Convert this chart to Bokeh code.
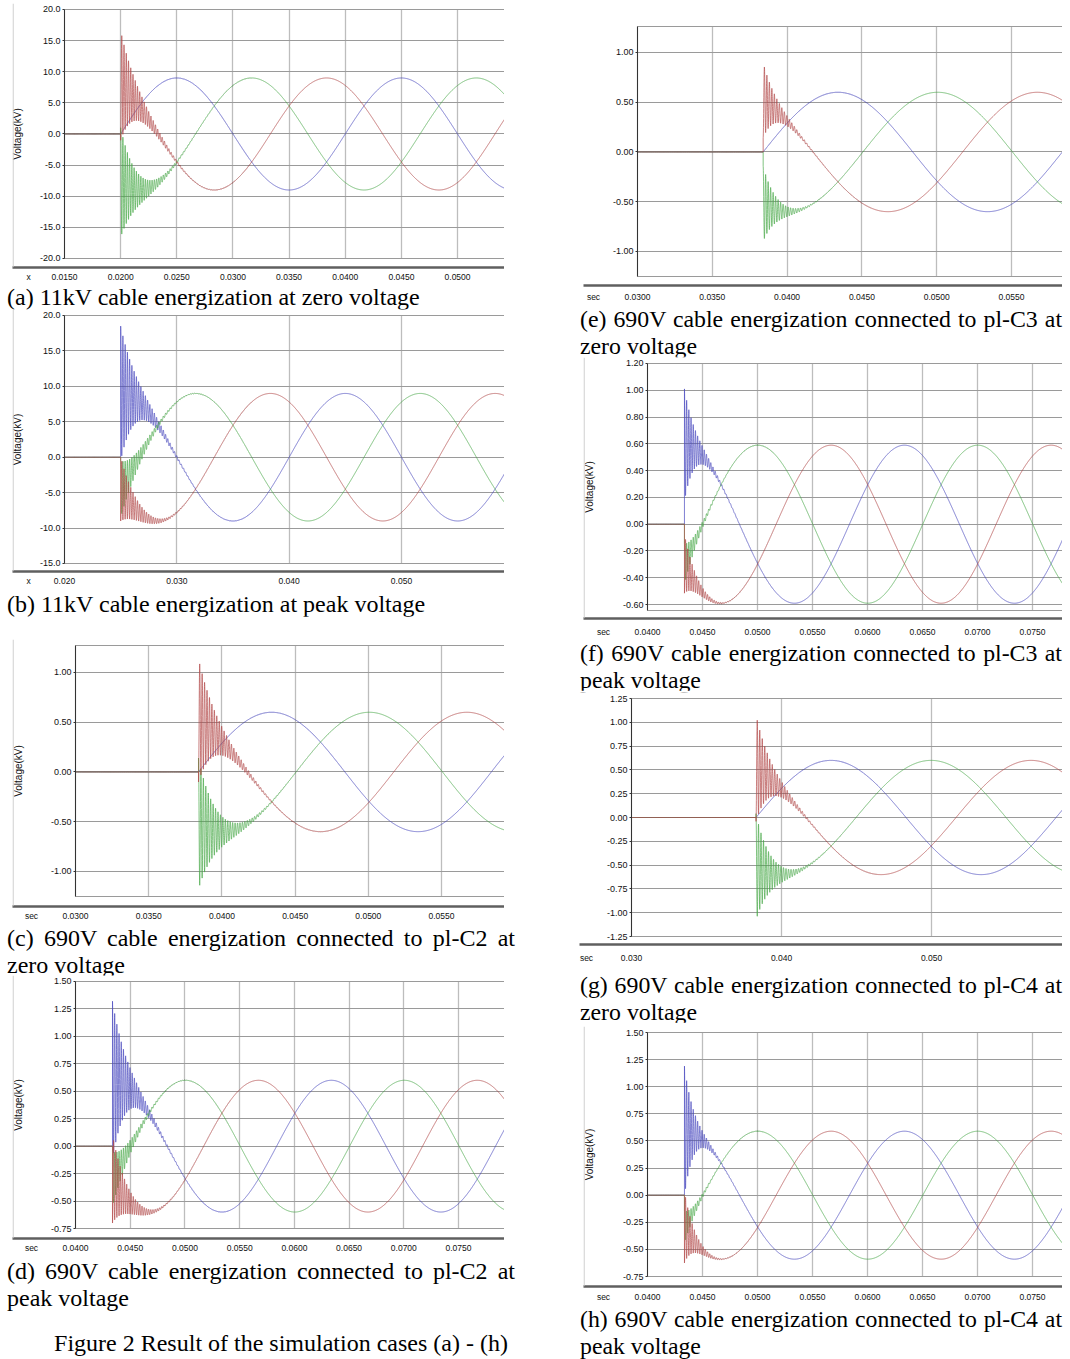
import numpy as np
from bokeh.plotting import figure
from bokeh.layouts import column, row
from bokeh.models import Div, FixedTicker, PrintfTickFormatter, Range1d, Span
from bokeh.embed import file_html
from bokeh.resources import INLINE

# ---------------- data ----------------
SYSTEM_HZ = 50.0
PHASES = ["blue", "green", "red"]
PHASE_DEG = {"blue": 0.0, "red": 120.0, "green": -120.0}

# (a) 11kV energization at zero voltage
A_XTICKS = [0.0150, 0.0200, 0.0250, 0.0300, 0.0350, 0.0400, 0.0450, 0.0500]
A_YTICKS = [-20.0, -15.0, -10.0, -5.0, 0.0, 5.0, 10.0, 15.0, 20.0]
A_SWITCH = 0.0200
A_AMP = 9.0
A_MODE = "zero"
A_SWING = {"blue": 0.0, "red": -8.8, "green": 8.8}
A_DECAY = 0.0013
A_RING = 5000.0

# (b) 11kV energization at peak voltage
B_XTICKS = [0.020, 0.030, 0.040, 0.050]
B_YTICKS = [-15.0, -10.0, -5.0, 0.0, 5.0, 10.0, 15.0, 20.0]
B_SWITCH = 0.0250
B_AMP = 9.0
B_MODE = "peak"
B_SWING = {"blue": 9.5, "red": -4.5, "green": 4.0}
B_DECAY = 0.0013
B_RING = 5000.0

# (c) 690V pl-C2 zero voltage
C_XTICKS = [0.0300, 0.0350, 0.0400, 0.0450, 0.0500, 0.0550]
C_YTICKS = [-1.00, -0.50, 0.00, 0.50, 1.00]
C_SWITCH = 0.0384
C_AMP = 0.60
C_MODE = "zero"
C_SWING = {"blue": 0.0, "red": -0.62, "green": 0.66}
C_DECAY = 0.0011
C_RING = 6000.0

# (d) 690V pl-C2 peak voltage
D_XTICKS = [0.0400, 0.0450, 0.0500, 0.0550, 0.0600, 0.0650, 0.0700, 0.0750]
D_YTICKS = [-0.75, -0.50, -0.25, 0.00, 0.25, 0.50, 0.75, 1.00, 1.25, 1.50]
D_SWITCH = 0.04338
D_AMP = 0.60
D_MODE = "peak"
D_SWING = {"blue": 0.72, "red": -0.40, "green": 0.25}
D_DECAY = 0.0012
D_RING = 5000.0

# (e) 690V pl-C3 zero voltage
E_XTICKS = [0.0300, 0.0350, 0.0400, 0.0450, 0.0500, 0.0550]
E_YTICKS = [-1.00, -0.50, 0.00, 0.50, 1.00]
E_SWITCH = 0.0384
E_AMP = 0.60
E_MODE = "zero"
E_SWING = {"blue": 0.0, "red": -0.38, "green": 0.38}
E_DECAY = 0.0008
E_RING = 6000.0

# (f) 690V pl-C3 peak voltage
F_XTICKS = [0.0400, 0.0450, 0.0500, 0.0550, 0.0600, 0.0650, 0.0700, 0.0750]
F_YTICKS = [-0.60, -0.40, -0.20, 0.00, 0.20, 0.40, 0.60, 0.80, 1.00, 1.20]
F_SWITCH = 0.04336
F_AMP = 0.59
F_MODE = "peak"
F_SWING = {"blue": 0.42, "red": -0.22, "green": 0.15}
F_DECAY = 0.0009
F_RING = 5000.0

# (g) 690V pl-C4 zero voltage
G_XTICKS = [0.030, 0.040, 0.050]
G_YTICKS = [-1.25, -1.00, -0.75, -0.50, -0.25, 0.00, 0.25, 0.50, 0.75, 1.00, 1.25]
G_SWITCH = 0.0383
G_AMP = 0.60
G_MODE = "zero"
G_SWING = {"blue": 0.0, "red": -0.56, "green": 0.56}
G_DECAY = 0.0009
G_RING = 6000.0

# (h) 690V pl-C4 peak voltage
H_XTICKS = [0.0400, 0.0450, 0.0500, 0.0550, 0.0600, 0.0650, 0.0700, 0.0750]
H_YTICKS = [-0.75, -0.50, -0.25, 0.00, 0.25, 0.50, 0.75, 1.00, 1.25, 1.50]
H_SWITCH = 0.04336
H_AMP = 0.59
H_MODE = "peak"
H_SWING = {"blue": 0.60, "red": -0.33, "green": 0.15}
H_DECAY = 0.0008
H_RING = 5000.0

CAPTIONS = {
    "a": ["(a) 11kV cable energization at zero voltage"],
    "b": ["(b) 11kV cable energization at peak voltage"],
    "c": ["(c) 690V cable energization connected to pl-C2 at", "zero voltage"],
    "d": ["(d) 690V cable energization connected to pl-C2 at", "peak voltage"],
    "e": ["(e) 690V cable energization connected to pl-C3 at", "zero voltage"],
    "f": ["(f) 690V cable energization connected to pl-C3 at", "peak voltage"],
    "g": ["(g) 690V cable energization connected to pl-C4 at", "zero voltage"],
    "h": ["(h) 690V cable energization connected to pl-C4 at", "peak voltage"],
}
FIG_CAPTION = "Figure 2 Result of the simulation cases (a) - (h)"
Y_LABEL = "Voltage(kV)"

# ---------------- styles ----------------
COLORS = {"blue": "#4a4abf", "green": "#4aa94a", "red": "#b24848"}
SANS = "Liberation Sans"
SERIF = "Liberation Serif"
TOP_PAD = 6  # px of frame kept above the plotting box so top tick labels are not cut


def waveform(t, ts, amp, mode, phase, swing, tau, ring):
    dt = t - ts
    shift = 90.0 if mode == "peak" else 0.0
    steady = amp * np.sin(2 * np.pi * SYSTEM_HZ * dt + np.radians(PHASE_DEG[phase] + shift))
    osc = swing * np.exp(-np.clip(dt, 0, None) / tau) * np.cos(2 * np.pi * ring * dt)
    return np.where(dt >= 0, steady + osc, 0.0)


def time_grid(x0, x1, ts, tau):
    pre = np.linspace(x0, ts - 1e-7, 60)
    t_dense_end = min(ts + 9 * tau, x1)
    dense = np.arange(ts, t_dense_end, 4e-6)
    post = np.arange(t_dense_end, x1 + 2e-5, 2e-5)
    return np.concatenate([pre, dense, post])


def make_panel(xticks, yticks, ts, amp, mode, swing, tau, ring, g):
    x0 = xticks[0]
    kx, ky = g["kx"], g["ky"]           # pixels per second / per kV
    xs = x0 - g["axis_gap"] / kx        # frame starts at the outer box line
    x_unit = x0 - g["unit_gap"] / kx    # position of the "x"/"sec" text
    top, pb = g["top"], g["pb"]
    y_frame_top = top + TOP_PAD / ky
    p = figure(width=g["w"], height=g["h"], output_backend="svg", toolbar_location=None,
               x_range=Range1d(xs, g["x1"]), y_range=Range1d(g["y0"], y_frame_top),
               min_border_left=g["mbl"], min_border_right=0,
               min_border_top=g["mbt"], min_border_bottom=g["mbb"])
    p.frame_align = False
    p.background_fill_color = "white"
    p.border_fill_color = "white"
    p.outline_line_color = None

    xa = p.xaxis[0]
    xa.ticker = FixedTicker(ticks=[x_unit] + list(xticks), minor_ticks=[])
    xa.formatter = PrintfTickFormatter(format=g["xfmt"])
    xa.major_label_overrides = {x_unit: g["unit"]}
    xa.axis_line_color = "#5f5f5f"
    xa.axis_line_width = 2.5
    xa.major_tick_out = 0
    xa.major_tick_in = 0
    xa.minor_tick_out = 0
    xa.minor_tick_in = 0
    xa.major_label_standoff = g["xstand"]
    xa.major_label_text_font = SANS
    xa.major_label_text_font_size = "8.5px"
    xa.major_label_text_color = "#111111"

    ya = p.yaxis[0]
    ya.fixed_location = x0
    ya.bounds = (pb, top)
    ya.ticker = FixedTicker(ticks=yticks, minor_ticks=[])
    ya.formatter = PrintfTickFormatter(format=g["yfmt"])
    ya.axis_line_color = "#333333"
    ya.axis_line_width = 1
    ya.major_tick_out = 2
    ya.major_tick_in = 0
    ya.minor_tick_out = 0
    ya.minor_tick_in = 0
    ya.major_tick_line_color = "#333333"
    ya.major_label_standoff = 2
    ya.major_label_text_font = SANS
    ya.major_label_text_font_size = "9px"
    ya.major_label_text_color = "#111111"
    if g["ylabel"]:
        ya.axis_label = Y_LABEL
        ya.axis_label_text_font = SANS
        ya.axis_label_text_font_size = "10px"
        ya.axis_label_text_font_style = "normal"
        ya.axis_label_text_color = "#111111"
        ya.axis_label_standoff = g["ystand"]

    p.xgrid.ticker = FixedTicker(ticks=list(xticks), minor_ticks=[])
    p.ygrid.ticker = FixedTicker(ticks=list(yticks) + [pb, top], minor_ticks=[])
    p.xgrid.grid_line_color = "#bdbdbd"
    p.xgrid.grid_line_width = 1.3
    p.ygrid.grid_line_color = "#9a9a9a"
    p.ygrid.grid_line_width = 1.1
    try:
        p.xgrid.cross_bounds = (pb, top)
        p.ygrid.cross_bounds = (x0, g["x1"])
    except Exception:
        pass

    if g["box"]:
        p.add_layout(Span(location=xs + 0.6 / kx, dimension="height",
                          line_color="#c4c4c4", line_width=1))

    t = time_grid(x0, g["x1"], ts, tau)
    for ph in PHASES:
        v = waveform(t, ts, amp, mode, ph, swing[ph], tau, ring)
        p.line(t, v, line_color=COLORS[ph], line_width=1, line_alpha=0.7)
    return p


def caption(lines, width, pad_left, justify, size="24px", single_lh=24):
    font = f"font-family:'{SERIF}','Times New Roman',serif;font-size:{size};color:#000;"
    if len(lines) == 1:
        inner = f'<div style="{font}line-height:{single_lh}px;white-space:nowrap;">{lines[0]}</div>'
    else:
        first = (f'<div style="{font}line-height:28px;white-space:nowrap;text-align:justify;text-align-last:justify;">{lines[0]}</div>'
                 if justify else f'<div style="{font}line-height:28px;white-space:nowrap;">{lines[0]}</div>')
        inner = first + f'<div style="{font}line-height:27px;white-space:nowrap;">{lines[1]}</div>'
    return (f'<div style="box-sizing:content-box;padding-left:{pad_left}px;width:{width}px;">'
            f'{inner}</div>')


# geometry (pixels) per panel; top = value at the plotting box top edge, pb = box bottom
GEOM = {
    "a": dict(w=504, h=285, mbl=12, mbt=3, mbb=18, kx=11229, ky=6.225, axis_gap=52, unit_gap=36,
              x1=0.05418, y0=-21.45, top=20.0, pb=-20.0, xfmt="%.4f", yfmt="%.1f", xstand=4,
              ylabel=True, ystand=14, unit="x", box=True),
    "b": dict(w=504, h=283, mbl=12, mbt=0, mbb=21, kx=11233, ky=7.086, axis_gap=52, unit_gap=36,
              x1=0.05917, y0=-16.13, top=20.0, pb=-15.0, xfmt="%.3f", yfmt="%.1f", xstand=4,
              ylabel=True, ystand=14, unit="x", box=True),
    "c": dict(w=504, h=308, mbl=12, mbt=23, mbb=18, kx=14640, ky=99.5, axis_gap=63, unit_gap=44,
              x1=0.05930, y0=-1.352, top=1.271, pb=-1.25, xfmt="%.4f", yfmt="%.2f", xstand=4,
              ylabel=True, ystand=24, unit="sec", box=True),
    "d": dict(w=504, h=282, mbl=12, mbt=0, mbb=19, kx=10943, ky=110.2, axis_gap=63, unit_gap=44,
              x1=0.07920, y0=-0.841, top=1.50, pb=-0.75, xfmt="%.4f", yfmt="%.2f", xstand=4,
              ylabel=True, ystand=24, unit="sec", box=True),
    "e": dict(w=500, h=305, mbl=21, mbt=20, mbb=20, kx=14960, ky=99.5, axis_gap=54, unit_gap=44,
              x1=0.05841, y0=-1.342, top=1.261, pb=-1.25, xfmt="%.4f", yfmt="%.2f", xstand=6,
              ylabel=False, ystand=24, unit="sec", box=False),
    "f": dict(w=500, h=283, mbl=21, mbt=1, mbb=20, kx=11000, ky=134.4, axis_gap=64, unit_gap=44,
              x1=0.07773, y0=-0.704, top=1.20, pb=-0.645, xfmt="%.4f", yfmt="%.2f", xstand=8,
              ylabel=True, ystand=25, unit="sec", box=True),
    "g": dict(w=500, h=281, mbl=17, mbt=2, mbb=27, kx=15000, ky=95.2, axis_gap=52, unit_gap=45,
              x1=0.05873, y0=-1.334, top=1.25, pb=-1.25, xfmt="%.3f", yfmt="%.2f", xstand=8,
              ylabel=False, ystand=24, unit="sec", box=False),
    "h": dict(w=500, h=283, mbl=21, mbt=4, mbb=19, kx=11000, ky=108.4, axis_gap=64, unit_gap=44,
              x1=0.07773, y0=-0.842, top=1.50, pb=-0.75, xfmt="%.4f", yfmt="%.2f", xstand=5,
              ylabel=True, ystand=25, unit="sec", box=True),
}

fa = make_panel(A_XTICKS, A_YTICKS, A_SWITCH, A_AMP, A_MODE, A_SWING, A_DECAY, A_RING, GEOM["a"])
fb = make_panel(B_XTICKS, B_YTICKS, B_SWITCH, B_AMP, B_MODE, B_SWING, B_DECAY, B_RING, GEOM["b"])
fc = make_panel(C_XTICKS, C_YTICKS, C_SWITCH, C_AMP, C_MODE, C_SWING, C_DECAY, C_RING, GEOM["c"])
fd = make_panel(D_XTICKS, D_YTICKS, D_SWITCH, D_AMP, D_MODE, D_SWING, D_DECAY, D_RING, GEOM["d"])
fe = make_panel(E_XTICKS, E_YTICKS, E_SWITCH, E_AMP, E_MODE, E_SWING, E_DECAY, E_RING, GEOM["e"])
ff = make_panel(F_XTICKS, F_YTICKS, F_SWITCH, F_AMP, F_MODE, F_SWING, F_DECAY, F_RING, GEOM["f"])
fg = make_panel(G_XTICKS, G_YTICKS, G_SWITCH, G_AMP, G_MODE, G_SWING, G_DECAY, G_RING, GEOM["g"])
fh = make_panel(H_XTICKS, H_YTICKS, H_SWITCH, H_AMP, H_MODE, H_SWING, H_DECAY, H_RING, GEOM["h"])


def cap_div(key, width, pad_left, justify, height, size="24px"):
    return Div(text=caption(CAPTIONS[key], width, pad_left, justify, size=size),
               width=width + pad_left, height=height, margin=(0, 0, 0, 0))


ca = cap_div("a", 508, 7, False, 24)
cb = cap_div("b", 508, 7, False, 24)
cc = cap_div("c", 508, 7, True, 51)
cd = cap_div("d", 508, 7, True, 51)
ce = cap_div("e", 482, 18, True, 51, size="23.8px")
cf = cap_div("f", 482, 18, True, 51, size="23.8px")
cg = cap_div("g", 482, 18, True, 51, size="23.8px")
ch = cap_div("h", 482, 18, True, 51, size="23.8px")

fig2 = Div(text=(f'<div style="box-sizing:content-box;width:562px;padding-top:23px;text-align:center;'
                 f"font-family:'{SERIF}','Times New Roman',serif;font-size:24px;line-height:24px;color:#000;"
                 f'white-space:nowrap;">{FIG_CAPTION}</div>'),
           width=562, height=51, margin=(0, 0, 0, 0))

left = column(fa, ca, fb, cb, fc, cc, fd, cd, fig2, spacing=0)
right = column(fe, ce, ff, cf, fg, cg, fh, ch, spacing=0)
root = row(left, right, spacing=0)

open("out.html", "w").write(file_html(root, INLINE))
